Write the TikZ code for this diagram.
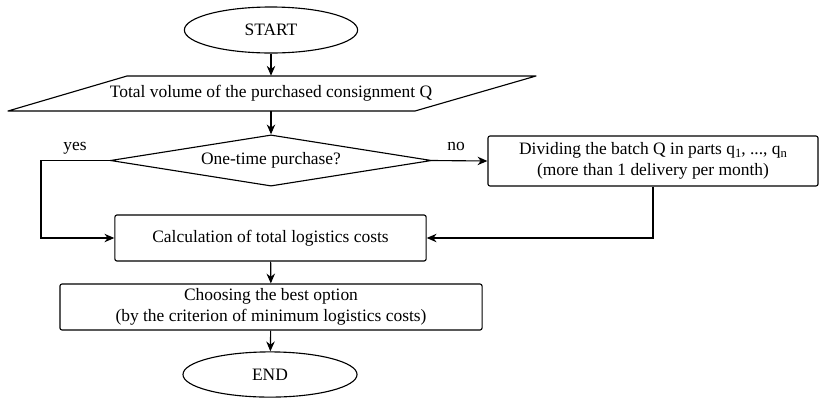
\documentclass[tikz,border=0pt]{standalone}
\usepackage{fontspec}
\setmainfont{Liberation Serif}
\usepackage{tikz}
\usetikzlibrary{calc,shapes.geometric,arrows.meta}

\tikzset{
  term/.style={draw, ellipse, line width=0.8pt, minimum width=4.33cm, minimum height=1.15cm, inner sep=0pt},
  procbox/.style={draw, rectangle, rounded corners=1.5pt, line width=0.8pt, align=center, inner sep=2pt},
  flow/.style={line width=0.8pt, -{Stealth[length=7pt,width=6pt]}}
}

\begin{document}
\begin{tikzpicture}[x=0.025cm, y=-0.025cm, font=\fontsize{12.4}{14.5}\selectfont]
        % Fix the frame to the size of the reference
        \useasboundingbox (0,0) rectangle (820,397);

        % Start and input data
        \node[term] (start) at (271,30) {START};
        \node[minimum height=0.875cm, inner sep=0pt] (input) at (271,93.5) {Total volume of the purchased consignment Q};
        \draw[line width=0.8pt, line join=round] ($(input.center)+(-263,17.5)$) -- ($(input.center)+(-144,-17.5)$) -- ($(input.center)+(265,-17.5)$) -- ($(input.center)+(144,17.5)$) -- cycle;

        % The question about the purchase
        \node[draw, diamond, aspect=6, line width=0.8pt, inner sep=0pt, minimum width=8.03cm, minimum height=1.28cm] (decision) at (271,160.5) {One-time purchase?};

        % The branch with several deliveries
        \node[procbox, minimum width=8.25cm, minimum height=1.25cm] (divide) at (653,161) {Dividing the batch Q in parts q\raisebox{-0.3ex}{\small 1}, ..., q\raisebox{-0.3ex}{\small n}\\(more than 1 delivery per month)};

        % Costs, choice and end
        \node[procbox, minimum width=7.78cm, minimum height=1.15cm] (calc) at (270.5,238) {Calculation of total logistics costs};
        \node[procbox, minimum width=10.55cm, minimum height=1.15cm] (choose) at (271,307) {Choosing the best option\\(by the criterion of minimum logistics costs)};
        \node[term, minimum width=4.35cm, minimum height=1.13cm] (end) at (270,374.5) {END};

        % Connections down the main column
        \draw[flow] (start) -- (input.north);
        \draw[flow] (input.south) -- (decision.north);
        \draw[flow] (calc) -- (choose);
        \draw[flow] (choose) -- (end);

        % yes: round the left side
        \coordinate (ybend) at (41,160.5);
        \draw[flow] (decision.west) -- (ybend) |- (calc.west);
        \node (yes) at (75,148) {yes};

        % no: to the right and back again
        \draw[flow] (decision.east) -- (divide.west);
        \node (no) at (456,146) {no};
        \draw[flow] (divide.south) |- (calc.east);

    \end{tikzpicture}
\end{document}
